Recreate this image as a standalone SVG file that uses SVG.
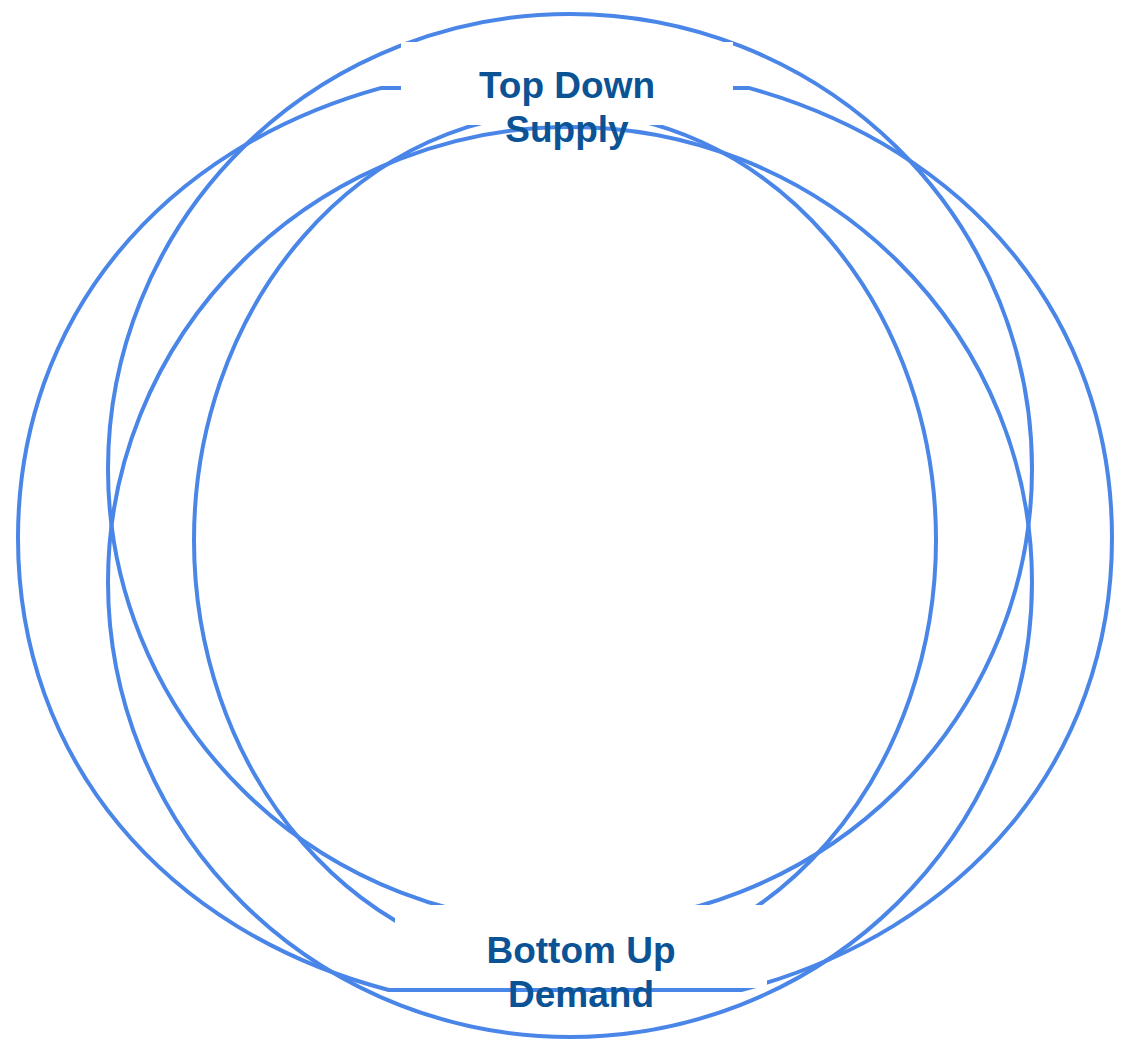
<svg xmlns="http://www.w3.org/2000/svg" width="1122" height="1040" viewBox="0 0 1122 1040">
<style>
.ring{fill:none;stroke:#4a86e8;stroke-width:4}
.box{fill:#ffffff;stroke:none}
.lbl{font-family:"Liberation Sans",Arial,sans-serif;font-weight:bold;font-size:37px;fill:#0b5394;text-anchor:middle}
</style>
<rect width="1122" height="1040" fill="#ffffff"/>
<g id="rings">
<path id="ring-a" class="ring" d="M 388.7 990 C 165.3 931.4 18 760.1 18 538 C 18 318.3 162.1 148.4 381.4 87.9 L 748.6 87.9 C 967.9 148.4 1112 318.3 1112 538 C 1112 760.1 964.7 931.4 741.3 990 Z"/>
<ellipse id="ring-b" class="ring" cx="570" cy="469" rx="462" ry="455"/>
<ellipse id="ring-c" class="ring" cx="565" cy="540" rx="371" ry="428"/>
<ellipse id="ring-d" class="ring" cx="570" cy="582" rx="462" ry="455"/>
</g>
<g id="top-down-supply">
<rect class="box" x="401" y="42" width="332" height="83"/>
<text class="lbl" x="567" y="98">Top Down</text>
<text class="lbl" x="567" y="142">Supply</text>
</g>
<g id="bottom-up-demand">
<rect class="box" x="395" y="905" width="372" height="83"/>
<text class="lbl" x="581" y="963">Bottom Up</text>
<text class="lbl" x="581" y="1007">Demand</text>
</g>
</svg>
